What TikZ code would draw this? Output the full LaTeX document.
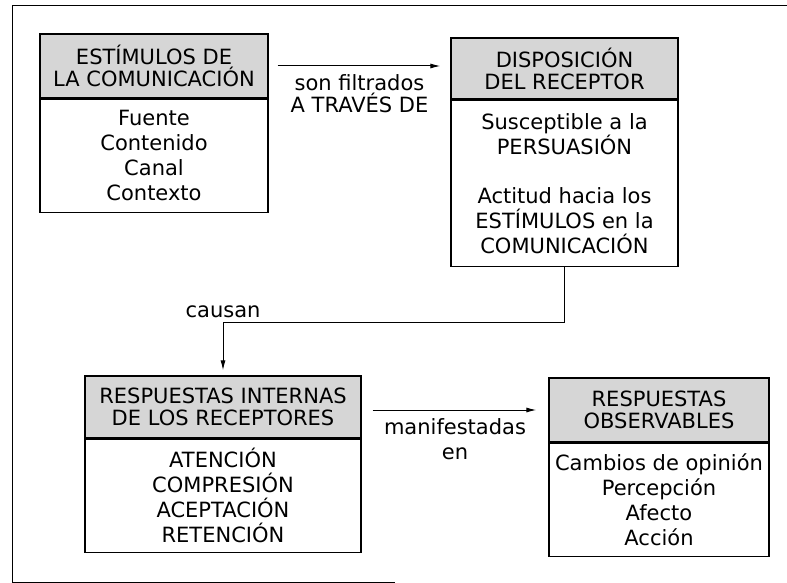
\documentclass[tikz,border=0pt]{standalone}
\usepackage{fontspec}
\setmainfont{DejaVu Sans}
\usetikzlibrary{positioning,arrows.meta}

\begin{document}
\begin{tikzpicture}[x=1pt, y=-1pt, font=\fontsize{21}{22}\selectfont,
	cabeza/.style={draw, line width=1.3pt, fill=black!16, align=center, inner sep=0pt},
	cuerpo/.style={draw, line width=1.3pt, fill=white, align=center, inner sep=0pt, font=\fontsize{21}{25}\selectfont},
	flecha/.style={line width=1pt, -{Latex[length=10pt,width=5pt]}}]
	\useasboundingbox (0,0) rectangle (787,583);
	\draw[line width=1pt] (787,6) -- (12,6) -- (12,582) -- (395,582);
	\node[cabeza, minimum width=228, minimum height=64] (estC) at (154,66) {ESTÍMULOS DE\\LA COMUNICACIÓN};
	\node[cuerpo, minimum width=228, minimum height=113, below=0pt of estC] (estL) {Fuente\\Contenido\\Canal\\Contexto};
	\node[cabeza, minimum width=227, minimum height=61] (dispC) at (564.5,68.5) {DISPOSICIÓN\\DEL RECEPTOR};
	\node[cuerpo, minimum width=227, minimum height=166, below=0pt of dispC] (dispL) {Susceptible a la\\PERSUASIÓN\\[24pt]Actitud hacia los\\ESTÍMULOS en la\\COMUNICACIÓN};
	\node[cabeza, minimum width=276, minimum height=62] (intC) at (223,407) {RESPUESTAS INTERNAS\\DE LOS RECEPTORES};
	\node[cuerpo, minimum width=276, minimum height=113, below=0pt of intC] (intL) {ATENCIÓN\\COMPRESIÓN\\ACEPTACIÓN\\RETENCIÓN};
	\node[cabeza, minimum width=220, minimum height=64] (obsC) at (659,410) {RESPUESTAS\\OBSERVABLES};
	\node[cuerpo, minimum width=220, minimum height=113, below=0pt of obsC] (obsL) {Cambios de opinión\\Percepción\\Afecto\\Acción};
	\coordinate (codo) at (223,322);
	\path[flecha]
		(estC) edge[shorten <=9pt, shorten >=10pt] node[below=5pt, align=center] (filt) {son filtrados\\A TRAVÉS DE} (estC -| dispC.west)
		(obsC -| intC.east) edge[shorten <=11pt, shorten >=12pt] node[below=5pt, align=center, font=\fontsize{21}{25}\selectfont] (manif) {manifestadas\\en} (obsC);
	\draw[flecha, shorten >=5pt] (dispL) |- (codo) node[above] (causan) {causan} -| (intC);
\end{tikzpicture}
\end{document}
